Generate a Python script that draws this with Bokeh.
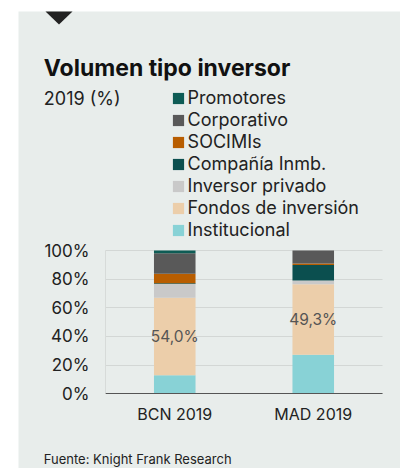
from bokeh.plotting import figure
from bokeh.models import (Range1d, FixedTicker, PrintfTickFormatter, Legend, LegendItem,
                          Label, BoxAnnotation, PolyAnnotation, ColumnDataSource)
from bokeh.embed import file_html
from bokeh.resources import INLINE
from bokeh.core.properties import value

# ---- data ----
cities = ["BCN 2019", "MAD 2019"]
series = ["Institucional", "Fondos de inversión", "Inversor privado", "Compañía Inmb.",
          "SOCIMIs", "Corporativo", "Promotores"]
institucional = [13.0, 27.2]
fondos = [54.0, 49.3]
inversor_privado = [9.7, 2.6]
compania_inmb = [0.5, 10.7]
socimis = [6.5, 1.2]
corporativo = [14.4, 9.0]
promotores = [1.9, 0.0]
y_ticks = [0, 20, 40, 60, 80, 100]
colors = ["#88d2d6", "#ecceaa", "#c9c9c9", "#0b4f4f", "#b85d00", "#595959", "#0e5c55"]
title = "Volumen tipo inversor"
subtitle = "2019 (%)"
source_note = "Fuente: Knight Frank Research"

FONT = "Inter"
BG = "#e8edeb"
W, H = 400, 468

# layout (pixels inside the figure): plot area of the bars
PL, PR = 105, 382         # left/right of plot area
PT, PB = 250, 393.3       # top (100 %) / bottom (0 %) of plot area
n = len(cities)
ux = (PR - PL) / n        # px per category slot
uy = (PB - PT) / 100.0    # px per percentage point

x_pos = [i + 0.5 for i in range(n)]
data = {"x": x_pos, "Institucional": institucional, "Fondos de inversión": fondos,
        "Inversor privado": inversor_privado, "Compañía Inmb.": compania_inmb,
        "SOCIMIs": socimis, "Corporativo": corporativo, "Promotores": promotores}
src = ColumnDataSource(data)

p = figure(width=W, height=H, output_backend="svg", toolbar_location=None, min_border=0,
           x_range=Range1d(-PL / ux, n + (W - PR) / ux),
           y_range=Range1d(-(H - PB) / uy, 100 + PT / uy))
p.background_fill_color = "white"
p.border_fill_color = "white"
p.outline_line_color = None

p.add_layout(BoxAnnotation(left=18, right=W, bottom=0, top=H - 11, left_units="screen",
                           right_units="screen", top_units="screen", bottom_units="screen",
                           fill_color=BG, fill_alpha=1, line_color=None, level="image"))
p.add_layout(PolyAnnotation(xs=[45, 72, 58.5], ys=[H - 11, H - 11, H - 24], xs_units="screen",
                            ys_units="screen", fill_color="#222222", fill_alpha=1, line_color=None))

rends = p.vbar_stack(series, x="x", width=0.3, color=colors, source=src, line_color=None)

lab_src = ColumnDataSource({"x": x_pos,
                            "y": [a + b / 2 for a, b in zip(institucional, fondos)],
                            "t": [f"{b:.1f}%".replace(".", ",") for b in fondos]})
p.text(x="x", y="y", text="t", source=lab_src, text_align="center", text_baseline="middle",
       text_font=value(FONT), text_font_size="15.5px", text_color="#555555")

# axes drawn at fixed data positions
p.yaxis.fixed_location = 0
p.yaxis.bounds = (0, 100)
p.yaxis.ticker = FixedTicker(ticks=y_ticks)
p.yaxis.formatter = PrintfTickFormatter(format="%d%%")
p.yaxis.major_tick_line_color = None
p.yaxis.minor_tick_line_color = None
p.yaxis.major_tick_out = 0
p.yaxis.major_tick_in = 0
p.yaxis.major_label_standoff = 16
p.yaxis.axis_line_color = "#d7dbd9"
p.yaxis.major_label_text_font = FONT
p.yaxis.major_label_text_font_size = "17px"
p.yaxis.major_label_text_color = "#222222"

p.xaxis.fixed_location = 0
p.xaxis.bounds = (0, n)
p.xaxis.ticker = FixedTicker(ticks=x_pos)
p.xaxis.major_label_overrides = {x: c for x, c in zip(x_pos, cities)}
p.xaxis.major_tick_line_color = None
p.xaxis.minor_tick_line_color = None
p.xaxis.major_tick_out = 0
p.xaxis.major_tick_in = 0
p.xaxis.major_label_standoff = 10
p.xaxis.axis_line_color = "#555555"
p.xaxis.major_label_text_font = FONT
p.xaxis.major_label_text_font_size = "16px"
p.xaxis.major_label_text_color = "#222222"

p.xgrid.visible = False
p.ygrid.grid_line_color = "#d3d7d5"
p.ygrid.bounds = (0, 100)
p.ygrid.cross_bounds = (0, n)

# legend
items = [LegendItem(label=s, renderers=[r]) for s, r in zip(series, rends)][::-1]
legend = Legend(items=items, location=(170.6, H - 240.4), padding=0, margin=0, spacing=1,
                glyph_width=14, glyph_height=14, label_standoff=3, label_height=14,
                label_text_font=FONT, label_text_font_size="18px", label_text_color="#222222",
                border_line_color=None, background_fill_alpha=0)
p.add_layout(legend)

# texts
p.add_layout(Label(x=43.3, y=H - 67.3, x_units="screen", y_units="screen", text=title,
                   text_font=FONT, text_font_size="23px", text_font_style="bold",
                   text_color="#111111", text_baseline="alphabetic"))
p.add_layout(Label(x=43.3, y=H - 98.3, x_units="screen", y_units="screen", text=subtitle,
                   text_font=FONT, text_font_size="18px", text_color="#222222",
                   text_baseline="alphabetic"))
p.add_layout(Label(x=43.3, y=H - 458, x_units="screen", y_units="screen", text=source_note,
                   text_font=FONT, text_font_size="13px", text_color="#222222",
                   text_baseline="alphabetic"))

open("out.html", "w").write(file_html(p, INLINE))
